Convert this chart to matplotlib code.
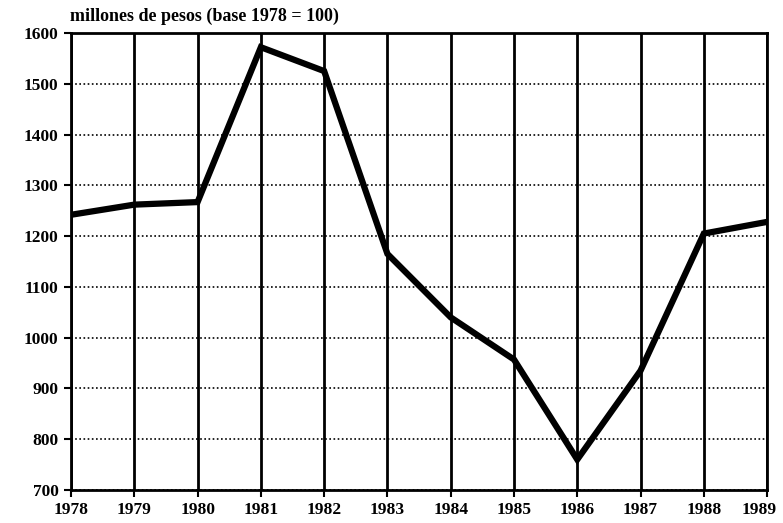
import matplotlib
matplotlib.use("Agg")
from matplotlib import pyplot as plt
from matplotlib import transforms

years = [1978, 1979, 1980, 1981, 1982, 1983, 1984, 1985, 1986, 1987, 1988, 1989]
values = [1242, 1262, 1267, 1572, 1525, 1165, 1040, 957, 760, 935, 1205, 1228]
yticks = list(range(700, 1601, 100))

plt.rcParams['font.family'] = ['Liberation Serif', 'DejaVu Serif']
plt.rcParams['font.weight'] = 'bold'

fig = plt.figure(figsize=(7.83, 5.23), dpi=100)
ax = fig.add_axes([0.0907, 0.0631, 0.889, 0.8738])

# vertical solid gridlines, horizontal dotted ones
for x in years:
    ax.axvline(x, color='black', lw=2.0, zorder=1)
for y in yticks:
    ax.axhline(y, color='black', lw=1.2, ls=(0, (1, 1.5)), zorder=1)

ax.plot(years, values, color='black', lw=4.5, solid_joinstyle='miter', zorder=3)

ax.set_xlim(1978, 1989)
ax.set_ylim(700, 1600)
ax.set_xticks(years)
ax.set_yticks(yticks)
ax.tick_params(direction='out', length=5, width=1.5, labelsize=12.5, pad=4)
for s in ax.spines.values():
    s.set_linewidth(2.0)

# last year label sits against the right edge, nudge it in
last = ax.get_xticklabels()[-1]
last.set_transform(last.get_transform() +
                   transforms.ScaledTranslation(-6 / 72, 0, fig.dpi_scale_trans))

fig.text(0.0894, 0.953, 'millones de pesos (base 1978 = 100)', fontsize=13,
         fontweight='bold', ha='left', va='bottom')

fig.savefig('out.png', dpi=100)
